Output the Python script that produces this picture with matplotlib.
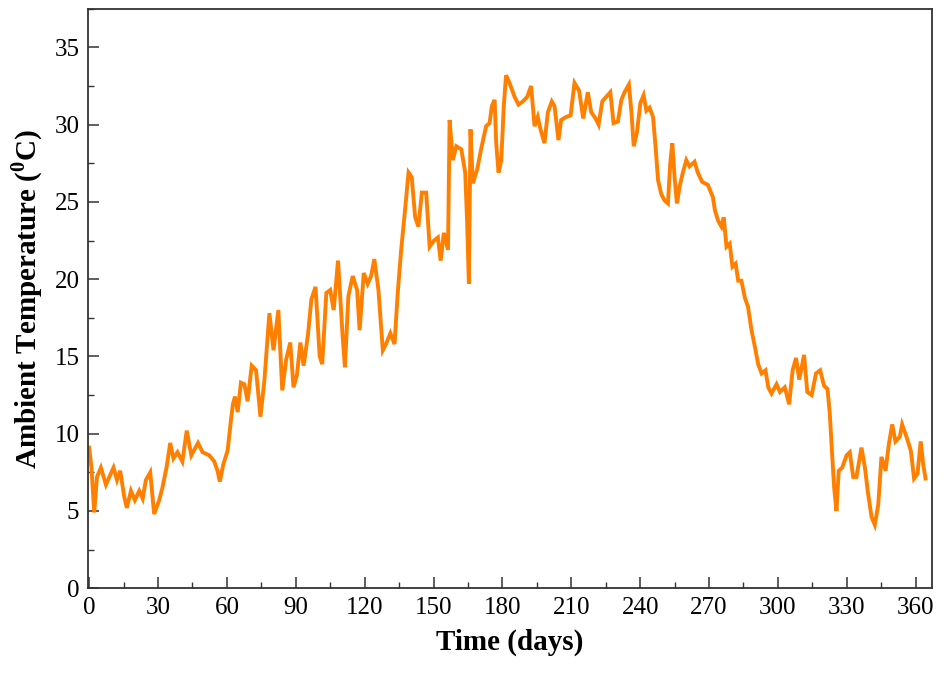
import matplotlib
matplotlib.use("Agg")
import matplotlib.pyplot as plt
from matplotlib.ticker import MultipleLocator

plt.rcParams["font.family"] = ["Liberation Serif", "DejaVu Serif"]
plt.rcParams["mathtext.fontset"] = "custom"
plt.rcParams["mathtext.rm"] = "Liberation Serif:bold"
plt.rcParams["mathtext.bf"] = "Liberation Serif:bold"

# valeurs (jour, temperature)
days = [
    0.0, 1.0, 2.2, 3.4, 5.1, 7.3, 10.6, 12.1, 13.5, 15.3, 16.4, 18.2, 19.9,
    21.8, 23.3, 24.7, 26.6, 28.3, 30.5, 31.9, 33.8, 35.3, 36.7, 38.5, 40.6,
    42.5, 44.5, 47.4, 49.4, 52.3, 54.5, 55.9, 56.9, 58.4, 60.3, 61.7, 62.6,
    63.5, 64.7, 66.1, 67.6, 69.0, 70.8, 72.7, 74.6, 76.3, 78.5, 80.3, 82.4,
    84.1, 85.8, 87.6, 89.0, 90.5, 92.0, 93.4, 95.3, 96.8, 98.6, 100.4, 101.5,
    103.3, 105.0, 106.5, 108.4, 110.4, 111.4, 112.9, 114.8, 116.7, 117.8,
    119.6, 121.3, 122.8, 124.2, 126.0, 127.9, 129.3, 131.2, 133.0, 134.4,
    135.9, 137.6, 139.1, 140.5, 142.0, 143.4, 144.9, 146.8, 148.3, 150.2,
    151.9, 153.1, 154.5, 156.3, 157.0, 158.4, 159.9, 162.1, 163.8, 164.6,
    165.4, 166.1, 167.1, 169.0, 170.7, 172.9, 174.4, 175.4, 176.6, 177.3,
    178.3, 179.5, 180.6, 181.6, 183.1, 185.3, 187.0, 188.9, 190.8, 192.5,
    194.0, 195.4, 196.6, 198.3, 199.8, 201.5, 202.7, 204.4, 205.6, 207.8,
    209.7, 211.4, 213.4, 215.2, 217.2, 218.7, 220.6, 221.9, 223.5, 225.2,
    227.0, 228.4, 230.3, 231.8, 233.2, 235.1, 236.2, 237.2, 238.6, 240.1,
    241.5, 242.7, 244.1, 245.6, 246.7, 247.8, 249.2, 250.6, 252.1, 253.1,
    254.0, 255.0, 256.0, 257.2, 258.6, 260.1, 261.5, 263.7, 265.1, 267.0,
    269.5, 271.7, 272.5, 273.9, 275.4, 276.4, 277.6, 279.0, 280.2, 281.6,
    282.7, 284.1, 285.6, 287.0, 288.5, 290.0, 291.4, 292.9, 294.6, 295.8,
    297.2, 299.4, 300.9, 303.0, 304.9, 306.4, 307.9, 309.3, 311.4, 312.8,
    314.7, 316.6, 318.4, 320.1, 321.6, 322.6, 323.6, 324.5, 325.5, 326.5,
    328.0, 329.9, 331.3, 332.8, 334.2, 336.4, 337.9, 339.3, 340.8, 342.2,
    343.7, 345.1, 346.9, 348.3, 349.8, 351.2, 353.1, 354.1, 356.0, 357.9,
    359.3, 360.8, 362.2, 363.3, 364.3,
]
temps = [
    9.1, 7.8, 4.9, 7.2, 7.8, 6.7, 7.8, 7.0, 7.6, 5.9, 5.2, 6.3, 5.7,
    6.3, 5.8, 7.0, 7.5, 4.8, 5.7, 6.5, 7.9, 9.4, 8.4, 8.8, 8.2,
    10.2, 8.6, 9.4, 8.8, 8.6, 8.2, 7.6, 6.9, 8.0, 8.9, 10.8, 11.9,
    12.4, 11.4, 13.3, 13.2, 12.1, 14.4, 14.1, 11.1, 13.4, 17.8, 15.4, 18.0,
    12.8, 14.8, 15.9, 13.0, 13.8, 15.9, 14.4, 16.4, 18.7, 19.5, 15.0, 14.5,
    19.1, 19.3, 18.0, 21.2, 16.3, 14.3, 18.9, 20.2, 19.3, 16.7,
    20.4, 19.7, 20.2, 21.3, 19.3, 15.4, 15.8, 16.5, 15.8, 19.1,
    21.9, 24.5, 26.9, 26.6, 24.0, 23.4, 25.6, 25.6, 22.1, 22.5,
    22.7, 21.2, 23.0, 21.9, 30.3, 27.7, 28.6, 28.4, 26.9, 23.8,
    19.7, 29.7, 26.2, 27.1, 28.4, 29.9, 30.1, 31.2, 31.6, 28.8,
    26.9, 27.7, 31.2, 33.2, 32.7, 31.8, 31.3, 31.5, 31.8, 32.5,
    29.9, 30.5, 29.7, 28.8, 30.8, 31.5, 31.2, 29.0, 30.3, 30.5,
    30.6, 32.7, 32.2, 30.4, 32.1, 30.8, 30.4, 30.0, 31.5, 31.8,
    32.1, 30.1, 30.2, 31.6, 32.1, 32.6, 30.8, 28.6, 29.5, 31.4,
    31.9, 30.9, 31.1, 30.5, 28.6, 26.4, 25.5, 25.1, 24.9, 27.5,
    28.8, 26.6, 24.9, 26.0, 26.9, 27.7, 27.3, 27.6, 26.9, 26.3,
    26.1, 25.3, 24.5, 23.8, 23.4, 24.0, 22.1, 22.3, 20.8, 21.0,
    19.9, 19.9, 18.8, 18.2, 16.7, 15.6, 14.5, 13.9, 14.1, 13.0,
    12.6, 13.2, 12.7, 13.0, 11.9, 14.1, 14.9, 13.5, 15.1, 12.7,
    12.5, 13.9, 14.1, 13.1, 12.9, 11.3, 8.7, 6.5, 5.0, 7.6,
    7.8, 8.6, 8.8, 7.2, 7.2, 9.1, 7.8, 6.1, 4.6, 4.1,
    5.4, 8.5, 7.6, 9.3, 10.6, 9.5, 9.8, 10.6, 9.8, 8.9,
    7.1, 7.4, 9.5, 8.0, 7.1,
]

x_ticks = list(range(0, 361, 30))
y_ticks = list(range(0, 36, 5))

fig = plt.figure(figsize=(9.44, 6.73), dpi=100)
ax = fig.add_axes([0.093, 0.126, 0.894, 0.861])

ax.plot(days, temps, color="#ff8000", linewidth=2.8, solid_joinstyle="miter")

ax.set_xlim(-0.6, 367)
ax.set_ylim(0, 37.5)
ax.set_xticks(x_ticks)
ax.set_yticks(y_ticks)
ax.xaxis.set_minor_locator(MultipleLocator(15))
ax.yaxis.set_minor_locator(MultipleLocator(2.5))
ax.tick_params(which="major", direction="in", length=8, width=1.1,
               labelsize=18, color="#333333", pad=6)
ax.tick_params(which="minor", direction="in", length=4, width=1.0,
               color="#333333")
for sp in ax.spines.values():
    sp.set_color("#333333")
    sp.set_linewidth(1.3)

ax.set_xlabel("Time (days)", fontsize=21, fontweight="bold", labelpad=7)
ax.set_ylabel(r"Ambient Temperature ($^{\mathbf{0}}$C)", fontsize=21,
              fontweight="bold", labelpad=7)

fig.savefig("out.png", dpi=100, facecolor="white")
plt.close(fig)
